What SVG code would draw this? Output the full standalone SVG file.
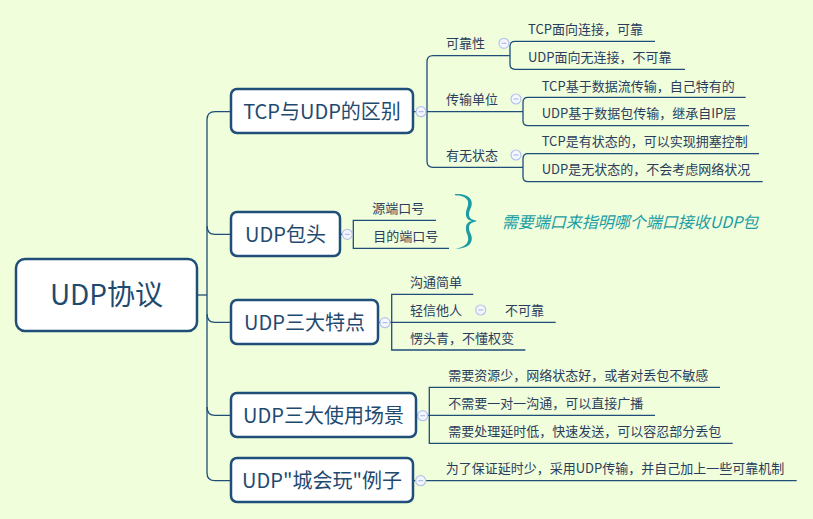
<svg xmlns="http://www.w3.org/2000/svg" width="813" height="519" viewBox="0 0 813 519">
<style>
.bg{fill:#F0FEDC}
.box{fill:#ffffff;stroke:#1f4e79;stroke-width:2.5}
.ln{fill:none;stroke:#1f4e79;stroke-width:1.3}
.t{font-family:"Noto Sans CJK SC","Microsoft YaHei",sans-serif;fill:#1f4a70}
.root{font-size:28px;text-anchor:middle}
.br{font-size:20px;text-anchor:middle}
.s{font-family:"Noto Sans CJK SC","Microsoft YaHei",sans-serif;font-size:13px;fill:#2a3d5c}
.note{font-family:"Noto Sans CJK SC","Microsoft YaHei",sans-serif;font-size:16px;font-style:italic;fill:#1a9ca3}
.col circle{fill:#f4f7ff;stroke:#b4c4ea;stroke-width:1.2}
.col path{stroke:#a8b8e0;stroke-width:1.1}
</style>
<rect class="bg" x="0" y="0" width="813" height="519"/>

<g id="connectors">
<path class="ln" d="M197,295 H207"/>
<path class="ln" d="M231,111.7 H215 Q207,111.7 207,119.7 V472.7 Q207,480.7 215,480.7 H231"/>
<path class="ln" d="M207,226 Q207,234.3 215,234.3 H231"/>
<path class="ln" d="M207,314 Q207,322.3 215,322.3 H231"/>
<path class="ln" d="M207,407 Q207,415.3 215,415.3 H231"/>
<path class="ln" d="M414,111.7 H523"/>
<path class="ln" d="M510,55.7 H433 Q427,55.7 427,61.7 V161.3 Q427,167.3 433,167.3 H523"/>
<path class="ln" d="M655,41.3 H515 Q510,41.3 510,46.3 V64.3 Q510,69.3 515,69.3 H685"/>
<path class="ln" d="M745.7,97.3 H528 Q523,97.3 523,102.3 V120.7 Q523,125.7 528,125.7 H749"/>
<path class="ln" d="M759,153.7 H528 Q523,153.7 523,158.7 V176.7 Q523,181.7 528,181.7 H762.7"/>
<path class="ln" d="M340,234.3 H353.3"/>
<path class="ln" d="M436,220.3 H353.3 V248.3 H449"/>
<path class="ln" d="M378,322.3 H555.7"/>
<path class="ln" d="M473.3,294.3 H391.7 V350 H525.3"/>
<path class="ln" d="M416,415.3 H655"/>
<path class="ln" d="M720,387.3 H429.3 V443.3 H732.7"/>
<path class="ln" d="M413,480.7 H796.7"/>
</g>

<g id="collapse" class="col">
<circle cx="421" cy="111.7" r="5"/><path d="M418.5,111.7 H423.5"/>
<circle cx="504" cy="43.3" r="5"/><path d="M501.5,43.3 H506.5"/>
<circle cx="516" cy="99" r="5"/><path d="M513.5,99 H518.5"/>
<circle cx="516" cy="155" r="5"/><path d="M513.5,155 H518.5"/>
<circle cx="347.3" cy="234.3" r="5"/><path d="M344.8,234.3 H349.8"/>
<circle cx="385" cy="322.7" r="5"/><path d="M382.5,322.7 H387.5"/>
<circle cx="480.7" cy="310" r="5"/><path d="M478.2,310 H483.2"/>
<circle cx="422.7" cy="415.7" r="5"/><path d="M420.2,415.7 H425.2"/>
<circle cx="420.7" cy="480.7" r="5"/><path d="M418.2,480.7 H423.2"/>
</g>

<g id="root">
<rect class="box" x="16" y="259" width="181" height="72" rx="9"/>
<text class="t root" x="106.5" y="305">UDP协议</text>
</g>

<g id="n-tcp">
<rect class="box" x="231" y="89" width="182" height="44" rx="6"/>
<text class="t br" x="322" y="118.5">TCP与UDP的区别</text>
</g>
<g id="n-rel"><text class="s" x="446" y="48">可靠性</text></g>
<g id="n-rel1"><text class="s" x="528" y="34">TCP面向连接，可靠</text></g>
<g id="n-rel2"><text class="s" x="528" y="62">UDP面向无连接，不可靠</text></g>
<g id="n-unit"><text class="s" x="446" y="103.5">传输单位</text></g>
<g id="n-unit1"><text class="s" x="541.7" y="90.5">TCP基于数据流传输，自己特有的</text></g>
<g id="n-unit2"><text class="s" x="541.7" y="118">UDP基于数据包传输，继承自IP层</text></g>
<g id="n-state"><text class="s" x="446" y="159.5">有无状态</text></g>
<g id="n-state1"><text class="s" x="541.7" y="146">TCP是有状态的，可以实现拥塞控制</text></g>
<g id="n-state2"><text class="s" x="541.7" y="174">UDP是无状态的，不会考虑网络状况</text></g>

<g id="n-hdr">
<rect class="box" x="231" y="212" width="109" height="44" rx="6"/>
<text class="t br" x="285.5" y="241.5">UDP包头</text>
</g>
<g id="n-hdr1"><text class="s" x="372.3" y="213">源端口号</text></g>
<g id="n-hdr2"><text class="s" x="373.3" y="240.5">目的端口号</text></g>
<g id="brace">
<path fill="#1a9ca3" d="M455,194 C469,193 474,200 471,207.5 C468,214 467,219 477,221 C464,222.5 465,213 467.5,207 C470,200 466,195.5 455,195.2 Z"/>
<path fill="#1a9ca3" d="M477,221 C467,223 468,228 471,234.5 C474,242 469,249 455,248.8 C466,247.3 470,242 467.5,235 C465,229 464,219.5 477,221 Z"/>
<text class="note" x="501.7" y="227.5">需要端口来指明哪个端口接收UDP包</text>
</g>

<g id="n-feat">
<rect class="box" x="231" y="300" width="147" height="44" rx="6"/>
<text class="t br" x="304.5" y="329.5">UDP三大特点</text>
</g>
<g id="n-feat1"><text class="s" x="410" y="286.5">沟通简单</text></g>
<g id="n-feat2"><text class="s" x="410" y="314.5">轻信他人</text></g>
<g id="n-feat2a"><text class="s" x="505" y="314.5">不可靠</text></g>
<g id="n-feat3"><text class="s" x="410" y="342.5">愣头青，不懂权变</text></g>

<g id="n-scene">
<rect class="box" x="231" y="393" width="185" height="44" rx="6"/>
<text class="t br" x="323.5" y="422.5">UDP三大使用场景</text>
</g>
<g id="n-scene1"><text class="s" x="448.3" y="379.5">需要资源少，网络状态好，或者对丢包不敏感</text></g>
<g id="n-scene2"><text class="s" x="448.3" y="407.5">不需要一对一沟通，可以直接广播</text></g>
<g id="n-scene3"><text class="s" x="448.3" y="435.5">需要处理延时低，快速发送，可以容忍部分丢包</text></g>

<g id="n-ex">
<rect class="box" x="231" y="458" width="182" height="44" rx="6"/>
<text class="t br" x="322" y="487.5">UDP"城会玩"例子</text>
</g>
<g id="n-ex1"><text class="s" x="445.7" y="473">为了保证延时少，采用UDP传输，并自己加上一些可靠机制</text></g>
</svg>
